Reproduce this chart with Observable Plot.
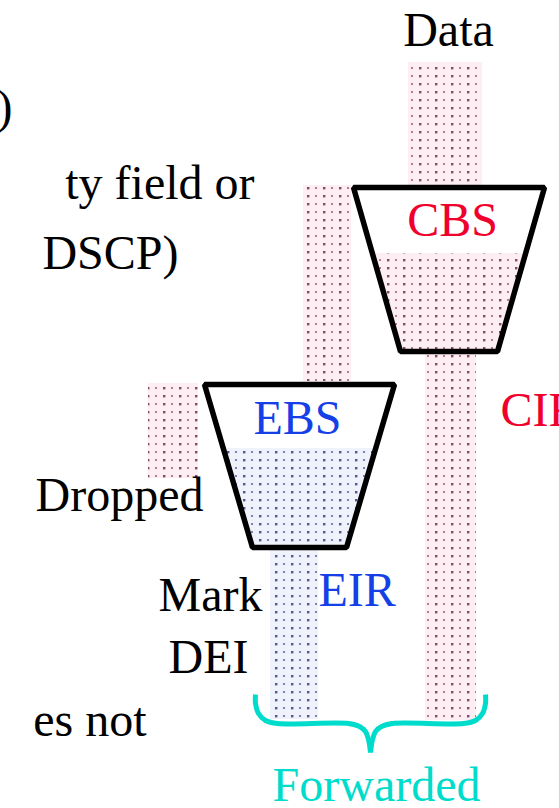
<!DOCTYPE html>
<html>
<head>
<meta charset="utf-8">
<script src="https://cdn.jsdelivr.net/npm/d3@7"></script>
<script src="https://cdn.jsdelivr.net/npm/@observablehq/plot@0.6"></script>
</head>
<body style="margin:0;background:#fff;overflow:hidden">
<div id="chart"></div>
<script>
// ---- diagram data (diagram units: x across, y down) ----
const streams = [
  {name: "data",     x1: 408, x2: 482, y1: 62,  y2: 186, kind: "pink"},
  {name: "excess",   x1: 303, x2: 351, y1: 185, y2: 381, kind: "pink"},
  {name: "cir",      x1: 425, x2: 476, y1: 352, y2: 720, kind: "pink"},
  {name: "dropped",  x1: 148, x2: 198, y1: 383, y2: 478, kind: "pink"},
  {name: "eir",      x1: 270, x2: 318, y1: 548, y2: 719, kind: "blue"}
];

const bucketNames   = ["CBS", "EBS"];
const bucketTop     = [187, 384];
const bucketBottom  = [351, 547];
const bucketTopL    = [353, 204];
const bucketTopR    = [544, 394];
const bucketBotL    = [400, 252];
const bucketBotR    = [497, 346];
const bucketLevel   = [253, 448];
const bucketKind    = ["pink", "blue"];

const braceLeft  = [[255,694],[255,703],[258,713],[265,720],[277,723],[348,723],[359,726],[365,731],[368,739],[370,752]];
const braceRight = [[485,694],[485,703],[482,713],[475,720],[463,723],[392,723],[381,726],[375,731],[372,739],[370,752]];

const labelText   = ["Data", ")", "ty field or", "DSCP)", "es not", "CBS", "CIR", "EBS", "Dropped", "Mark", "DEI", "EIR", "Forwarded"];
const labelX      = [448, 12, 254, 178, 146, 452, 500, 297, 203, 262, 248, 318, 376];
const labelY      = [45, 122, 198, 268, 735, 235, 425, 433, 510, 610, 672, 605, 800];
const labelAnchor = ["middle", "end", "end", "end", "end", "middle", "start", "middle", "end", "end", "end", "start", "middle"];
const labelRole   = ["plain", "plain", "plain", "plain", "plain", "committed", "committed", "excess", "plain", "plain", "plain", "excess", "forwarded"];

// ---- styles ----
const roleColor = {plain: "#000000", committed: "#f0002c", excess: "#1540e8", forwarded: "#00dccb"};
const patternFill = {pink: "url(#dots-pink)", blue: "url(#dots-blue)"};
const baseFont = 36, targetFont = 48;

// ---- derived tables ----
const buckets = bucketNames.map((name, i) => ({
  name, top: bucketTop[i], bottom: bucketBottom[i],
  tl: bucketTopL[i], tr: bucketTopR[i], bl: bucketBotL[i], br: bucketBotR[i],
  level: bucketLevel[i], kind: bucketKind[i]
}));

const outline = buckets.flatMap(b => {
  const mid = (b.tl + b.tr) / 2;
  return [[mid, b.top], [b.tr, b.top], [b.br, b.bottom], [b.bl, b.bottom], [b.tl, b.top], [mid, b.top]]
    .map(([x, y]) => ({name: b.name, x, y}));
});

const edgeAt = (b, y) => {
  const t = (y - b.top) / (b.bottom - b.top);
  return [b.tl + (b.bl - b.tl) * t, b.tr + (b.br - b.tr) * t];
};
const fills = buckets.flatMap(b => [b.level, b.bottom].map(y => {
  const [x1, x2] = edgeAt(b, y);
  return {name: b.name, kind: b.kind, y, x1, x2};
}));

const brace = [
  ...braceLeft.map(([x, y]) => ({side: "L", x, y})),
  ...braceRight.map(([x, y]) => ({side: "R", x, y}))
];

const labels = labelText.map((text, i) => ({
  text, x: labelX[i], y: labelY[i], anchor: labelAnchor[i], role: labelRole[i]
}));

const textMarks = labels.map(d => Plot.text([d], {
  x: "x", y: "y", text: "text", fill: roleColor[d.role],
  textAnchor: d.anchor, lineAnchor: "bottom", fontSize: baseFont, fontFamily: "Liberation Serif"
}));

const chart = Plot.plot({
  width: 559,
  height: 808,
  margin: 0,
  x: {domain: [0, 559], range: [0, 559], axis: null},
  y: {domain: [0, 808], range: [0, 808], axis: null},
  marks: [
    ...["pink", "blue"].map(k =>
      Plot.rect(streams.filter(d => d.kind === k), {x1: "x1", x2: "x2", y1: "y1", y2: "y2", fill: patternFill[k]})
    ),
    ...["pink", "blue"].map(k =>
      Plot.areaX(fills.filter(d => d.kind === k), {y: "y", x1: "x1", x2: "x2", z: "name", fill: patternFill[k]})
    ),
    Plot.line(outline, {x: "x", y: "y", z: "name", stroke: "#000", strokeWidth: 5.5, strokeLinejoin: "miter"}),
    Plot.line(brace, {x: "x", y: "y", z: "side", stroke: roleColor.forwarded, strokeWidth: 5, curve: "catmull-rom", strokeLinecap: "butt"}),
    ...textMarks
  ]
});

// enlarge the label glyphs about their anchor points
const k = targetFont / baseFont;
chart.querySelectorAll("text").forEach(t => {
  let tr = t.getAttribute("transform") || "";
  const x = t.getAttribute("x"), y = t.getAttribute("y");
  if (x !== null || y !== null) {
    tr = `translate(${x || 0},${y || 0}) ` + tr;
    t.removeAttribute("x"); t.removeAttribute("y");
  }
  t.setAttribute("transform", `${tr} scale(${k})`);
  t.setAttribute("font-family", "Liberation Serif");
});

// dotted textures
const NS = "http://www.w3.org/2000/svg";
const defs = document.createElementNS(NS, "defs");
function addPattern(id, bg, dark, light) {
  const p = document.createElementNS(NS, "pattern");
  p.setAttribute("id", id); p.setAttribute("patternUnits", "userSpaceOnUse");
  p.setAttribute("width", 16); p.setAttribute("height", 8);
  const parts = [[0, 0, 16, 8, bg], [3, 3, 2.4, 2.4, dark], [11, 3, 2, 2, light]];
  for (const [x, y, w, h, f] of parts) {
    const r = document.createElementNS(NS, "rect");
    r.setAttribute("x", x); r.setAttribute("y", y); r.setAttribute("width", w); r.setAttribute("height", h); r.setAttribute("fill", f);
    p.appendChild(r);
  }
  defs.appendChild(p);
}
addPattern("dots-pink", "#fdeef3", "#84486a", "#b27a96");
addPattern("dots-blue", "#eff2fa", "#4f5590", "#7d82b2");
chart.appendChild(defs);

document.getElementById("chart").appendChild(chart);
</script>
</body>
</html>
